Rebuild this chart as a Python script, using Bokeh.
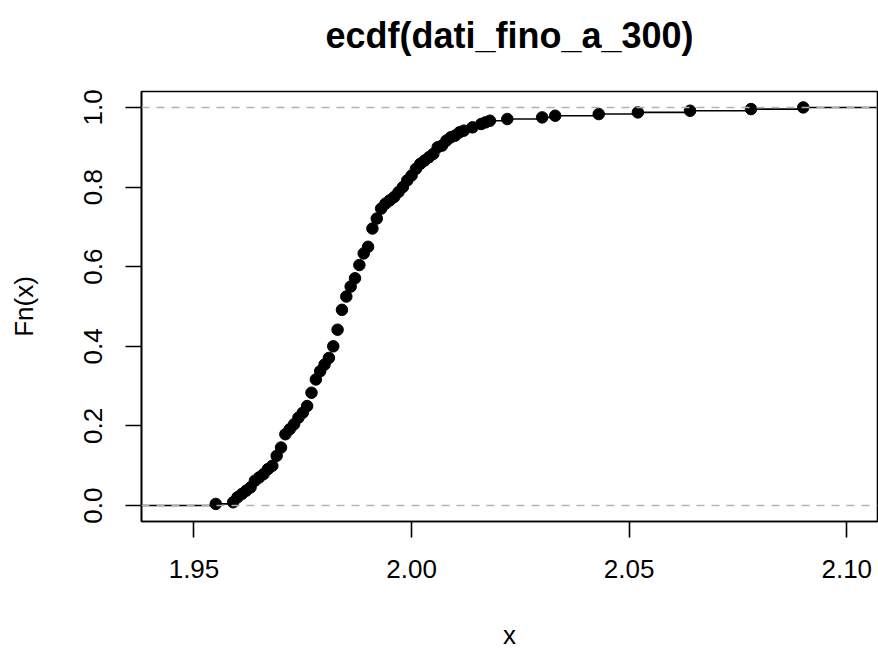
import numpy as np
from bokeh.plotting import figure
from bokeh.models import Range1d, FixedTicker, Span, LinearAxis
from bokeh.embed import file_html
from bokeh.resources import INLINE

# Unique observed values (sorted) and how many times each occurs
values = [1.955, 1.959, 1.960, 1.961, 1.962, 1.963, 1.964, 1.965, 1.966, 1.967,
          1.968, 1.969, 1.970, 1.971, 1.972, 1.973, 1.974, 1.975, 1.976, 1.977,
          1.978, 1.979, 1.980, 1.981, 1.982, 1.983, 1.984, 1.985, 1.986, 1.987,
          1.988, 1.989, 1.990, 1.991, 1.992, 1.993, 1.994, 1.995, 1.996, 1.997,
          1.998, 1.999, 2.000, 2.001, 2.002, 2.003, 2.004, 2.005, 2.006, 2.007,
          2.008, 2.009, 2.010, 2.011, 2.012, 2.014, 2.016, 2.017, 2.018, 2.022,
          2.030, 2.033, 2.043, 2.052, 2.064, 2.078, 2.090]
counts = [1, 1, 3, 2, 2, 2, 4, 2, 2, 3,
          2, 6, 5, 8, 3, 3, 4, 3, 4, 8,
          8, 5, 4, 4, 7, 10, 12, 8, 6, 5,
          8, 7, 4, 11, 6, 6, 3, 2, 2, 3,
          3, 4, 3, 4, 3, 2, 2, 2, 4, 1,
          3, 2, 1, 2, 1, 2, 2, 1, 1, 1,
          1, 1, 1, 1, 1, 1, 1]

x_ticks = [1.95, 2.00, 2.05, 2.10]
x_tick_labels = ["1.95", "2.00", "2.05", "2.10"]
y_ticks = [0.0, 0.2, 0.4, 0.6, 0.8, 1.0]
y_tick_labels = ["0.0", "0.2", "0.4", "0.6", "0.8", "1.0"]
title_text = "ecdf(dati_fino_a_300)"
x_label = "x"
y_label = "Fn(x)"

knots = np.array(values, dtype=float)
n = float(sum(counts))
Fn = np.cumsum(counts) / n

# R's plot.stepfun range logic
rx0, rx1 = knots.min(), knots.max()
dr = max(0.08 * (rx1 - rx0), float(np.median(np.diff(knots))))
xl0, xl1 = rx0 - dr, rx1 + dr
pad = 0.04 * (xl1 - xl0)
x_lo, x_hi = xl0 - pad, xl1 + pad
y_lo, y_hi = -0.04, 1.04

FONT = "Liberation Sans"

p = figure(width=878, height=652, output_backend="svg", toolbar_location=None,
           x_range=Range1d(x_lo, x_hi), y_range=Range1d(y_lo, y_hi),
           min_border_left=141, min_border_right=1, min_border_top=91,
           min_border_bottom=130)

p.xgrid.visible = False
p.ygrid.visible = False
p.outline_line_color = "black"
p.outline_line_width = 1.6
p.outline_line_alpha = 1.0
p.background_fill_color = "white"
p.border_fill_color = "white"

# step segments
x0 = np.concatenate([[xl0 - 2 * dr], knots])
x1 = np.concatenate([knots, [xl1 + 2 * dr]])
ys = np.concatenate([[0.0], Fn])
p.segment(x0=x0, y0=ys, x1=x1, y1=ys, line_color="black", line_width=1.6)
p.scatter(knots, Fn, size=11.5, color="black", marker="circle")

for h in (0.0, 1.0):
    p.add_layout(Span(location=h, dimension="width", line_color="#b3b3b3",
                      line_dash="8 7", line_width=1.5))

xa = p.below[0]
ya = p.left[0]

for ax, ticks, labels in ((xa, x_ticks, x_tick_labels), (ya, y_ticks, y_tick_labels)):
    ax.ticker = FixedTicker(ticks=ticks)
    ax.major_label_overrides = {t: l for t, l in zip(ticks, labels)}
    ax.major_tick_out = 16
    ax.major_tick_in = 0
    ax.minor_tick_out = 0
    ax.minor_tick_in = 0
    ax.major_tick_line_color = "black"
    ax.major_tick_line_width = 1.6
    ax.axis_line_color = "black"
    ax.axis_line_width = 1.6
    ax.major_label_text_font = FONT
    ax.major_label_text_font_size = "26px"
    ax.major_label_text_color = "black"
    ax.axis_label_text_font = FONT
    ax.axis_label_text_font_size = "26px"
    ax.axis_label_text_font_style = "normal"
    ax.axis_label_text_color = "black"

xa.axis_label = x_label
ya.axis_label = y_label
xa.major_label_standoff = 22
xa.axis_label_standoff = 39
ya.major_label_standoff = 23
ya.axis_label_standoff = 43
ya.major_label_orientation = "parallel"

# main title: label of a tick-less axis above the frame
title_axis = LinearAxis(ticker=FixedTicker(ticks=[]), axis_label=title_text,
                        axis_line_color=None, major_tick_out=0, major_tick_in=0,
                        minor_tick_out=0, minor_tick_in=0,
                        major_label_text_font_size="0px",
                        axis_label_standoff=36,
                        axis_label_text_font=FONT,
                        axis_label_text_font_size="36px",
                        axis_label_text_font_style="bold",
                        axis_label_text_color="black")
p.add_layout(title_axis, "above")

open("out.html", "w").write(file_html(p, INLINE))
